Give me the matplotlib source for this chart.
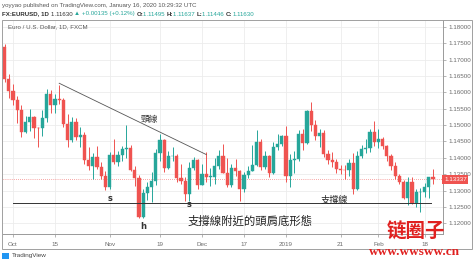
import matplotlib
matplotlib.use("Agg")
import matplotlib.pyplot as plt
from matplotlib.patches import Rectangle
import pandas as pd

# ---------------- data ----------------
holidays = ["2018-12-25", "2019-01-01"]
dates = [d for d in pd.bdate_range("2018-09-27", "2019-02-20").strftime("%Y-%m-%d") if d not in holidays]

opens = [1.1738, 1.1640,
         1.1604, 1.1576, 1.1547, 1.1479, 1.1511, 1.1524, 1.1491, 1.1490, 1.1522, 1.1595, 1.1560, 1.1580,
         1.1576, 1.1502, 1.1454, 1.1511, 1.1463, 1.1470, 1.1393, 1.1374, 1.1401, 1.1372, 1.1343,
         1.1312, 1.1408, 1.1387, 1.1408, 1.1428, 1.1431, 1.1364, 1.1337, 1.1218, 1.1292, 1.1310, 1.1328,
         1.1416, 1.1455, 1.1370, 1.1405, 1.1405, 1.1338, 1.1328, 1.1288, 1.1370, 1.1392,
         1.1317, 1.1351, 1.1342, 1.1342, 1.1376, 1.1406, 1.1355, 1.1318, 1.1370, 1.1361, 1.1305, 1.1347,
         1.1361, 1.1379, 1.1447, 1.1371, 1.1405, 1.1354, 1.1434, 1.1442,
         1.1466, 1.1343, 1.1393, 1.1397, 1.1474, 1.1444, 1.1542, 1.1501, 1.1467, 1.1477, 1.1413, 1.1392,
         1.1388, 1.1365, 1.1364, 1.1362, 1.1384, 1.1306, 1.1404, 1.1428, 1.1430, 1.1480,
         1.1447, 1.1456, 1.1436, 1.1406, 1.1376, 1.1343, 1.1325, 1.1277, 1.1327, 1.1263, 1.1294, 1.1295,
         1.1310, 1.1342]
highs = [1.1747, 1.1657,
         1.1625, 1.1590, 1.1560, 1.1528, 1.1548, 1.1528, 1.1495, 1.1545, 1.1609, 1.1607, 1.1595, 1.1622,
         1.1582, 1.1533, 1.1525, 1.1522, 1.1495, 1.1479, 1.1433, 1.1414, 1.1435, 1.1388, 1.1360,
         1.1418, 1.1456, 1.1422, 1.1437, 1.1500, 1.1440, 1.1375, 1.1347, 1.1306, 1.1327, 1.1356, 1.1428,
         1.1472, 1.1459, 1.1420, 1.1432, 1.1411, 1.1380, 1.1341, 1.1386, 1.1402, 1.1397,
         1.1382, 1.1419, 1.1368, 1.1400, 1.1424, 1.1443, 1.1400, 1.1382, 1.1395, 1.1364, 1.1358, 1.1376,
         1.1440, 1.1486, 1.1457, 1.1420, 1.1410, 1.1449, 1.1474, 1.1471,
         1.1497, 1.1413, 1.1420, 1.1484, 1.1488, 1.1546, 1.1570, 1.1515, 1.1487, 1.1485, 1.1425, 1.1418,
         1.1396, 1.1378, 1.1379, 1.1397, 1.1415, 1.1420, 1.1440, 1.1456, 1.1488, 1.1514,
         1.1489, 1.1465, 1.1440, 1.1412, 1.1387, 1.1352, 1.1331, 1.1340, 1.1341, 1.1306, 1.1307, 1.1322,
         1.1342, 1.1367]
lows = [1.1633, 1.1582,
        1.1563, 1.1506, 1.1463, 1.1476, 1.1483, 1.1460, 1.1432, 1.1468, 1.1510, 1.1538, 1.1537, 1.1566,
        1.1494, 1.1433, 1.1449, 1.1455, 1.1434, 1.1380, 1.1364, 1.1336, 1.1365, 1.1335, 1.1301,
        1.1306, 1.1380, 1.1374, 1.1390, 1.1400, 1.1359, 1.1315, 1.1216, 1.1216, 1.1272, 1.1265, 1.1317,
        1.1390, 1.1358, 1.1365, 1.1390, 1.1325, 1.1321, 1.1267, 1.1268, 1.1364, 1.1306,
        1.1316, 1.1327, 1.1315, 1.1320, 1.1365, 1.1355, 1.1310, 1.1310, 1.1344, 1.1269, 1.1294, 1.1337,
        1.1361, 1.1375, 1.1363, 1.1365, 1.1342, 1.1350, 1.1425, 1.1435,
        1.1325, 1.1311, 1.1354, 1.1390, 1.1424, 1.1442, 1.1483, 1.1454, 1.1434, 1.1401, 1.1380, 1.1372,
        1.1353, 1.1350, 1.1335, 1.1344, 1.1290, 1.1301, 1.1400, 1.1414, 1.1418, 1.1436,
        1.1431, 1.1426, 1.1390, 1.1362, 1.1334, 1.1320, 1.1275, 1.1257, 1.1258, 1.1249, 1.1234, 1.1280,
        1.1276, 1.1320]
closes = [1.1640, 1.1604,
          1.1576, 1.1547, 1.1479, 1.1511, 1.1524, 1.1491, 1.1490, 1.1522, 1.1595, 1.1560, 1.1580, 1.1576,
          1.1502, 1.1454, 1.1511, 1.1463, 1.1470, 1.1393, 1.1374, 1.1401, 1.1372, 1.1343, 1.1312,
          1.1408, 1.1387, 1.1408, 1.1428, 1.1431, 1.1364, 1.1337, 1.1218, 1.1292, 1.1310, 1.1328, 1.1416,
          1.1455, 1.1370, 1.1405, 1.1405, 1.1338, 1.1328, 1.1288, 1.1370, 1.1392, 1.1317,
          1.1351, 1.1342, 1.1342, 1.1376, 1.1406, 1.1355, 1.1318, 1.1370, 1.1361, 1.1305, 1.1347, 1.1361,
          1.1379, 1.1447, 1.1371, 1.1405, 1.1354, 1.1434, 1.1442, 1.1466,
          1.1343, 1.1393, 1.1397, 1.1474, 1.1444, 1.1542, 1.1501, 1.1467, 1.1477, 1.1413, 1.1392, 1.1388,
          1.1365, 1.1364, 1.1362, 1.1384, 1.1306, 1.1404, 1.1428, 1.1430, 1.1480, 1.1447,
          1.1456, 1.1436, 1.1406, 1.1376, 1.1343, 1.1325, 1.1277, 1.1327, 1.1263, 1.1294, 1.1295, 1.1310,
          1.1342, 1.13337]

price_ticks = [1.12, 1.125, 1.13, 1.135, 1.14, 1.145, 1.15, 1.155, 1.16, 1.165, 1.17, 1.175, 1.18]
date_tick_dates = ["2018-10-01", "2018-10-15", "2018-11-01", "2018-11-19", "2018-12-03",
                   "2018-12-17", "2019-01-02", "2019-01-21", "2019-02-01", "2019-02-18"]
date_tick_labels = ["Oct", "15", "Nov", "19", "Dec", "17", "2019", "21", "Feb", "18"]

neck_dates = ["2018-10-16", "2018-12-04"]
neck_prices = [1.1628, 1.1410]
support_dates = ["2018-10-01", "2019-02-20"]
support_price = 1.1262

header1 = "yoyyao published on TradingView.com, January 16, 2020 10:29:32 UTC"
header2 = [("FX:EURUSD, 1D ", "#333333", "bold"), ("1.11630 ", "#333333", "normal"),
           ("▲ +0.00135 (+0.12%) ", "#26a69a", "normal"),
           ("O:", "#333333", "bold"), ("1.11495 ", "#26a69a", "normal"),
           ("H:", "#333333", "bold"), ("1.11637 ", "#26a69a", "normal"),
           ("L:", "#333333", "bold"), ("1.11446 ", "#26a69a", "normal"),
           ("C:", "#333333", "bold"), ("1.11630", "#26a69a", "normal")]
title_txt = "Euro / U.S. Dollar, 1D, FXCM"

# ---------------- figure ----------------
W, H, DPI = 476, 261, 100
fig = plt.figure(figsize=(W / DPI, H / DPI), dpi=DPI)
fig.patch.set_facecolor("white")

def fx(x):
    return x / W

def fy(y):
    return 1 - y / H

UP = "#26a69a"
DN = "#ef5350"
GRID = "#ececec"
TXT = "#6b6b6b"
CJK = ["Noto Sans CJK TC", "DejaVu Sans"]
LAT = ["Liberation Sans", "DejaVu Sans"]

ax = fig.add_axes([fx(3), fy(234), fx(443) - fx(3), fy(20) - fy(234)])
ax.set_facecolor("white")
idx = {d: i for i, d in enumerate(dates)}

for i, (o, h, l, c) in enumerate(zip(opens, highs, lows, closes)):
    col = UP if c >= o else DN
    ax.vlines(i, l, h, color=col, linewidth=0.7, zorder=3)
    ax.add_patch(Rectangle((i - 0.36, min(o, c)), 0.72, max(abs(c - o), 0.00012),
                           facecolor=col, edgecolor=col, linewidth=0.3, zorder=4))

ax.set_xlim(-0.38, 104.38)
ax.set_ylim(1.11670, 1.18214)

tick_pos = [idx[d] for d in date_tick_dates]
ax.set_xticks(tick_pos)
ax.set_xticklabels(date_tick_labels, fontsize=4.5, color=TXT, family=LAT)
ax.set_yticks(price_ticks)
ax.set_yticklabels([f"{p:.5f}" for p in price_ticks], fontsize=4.5, color=TXT, family=LAT)
ax.yaxis.tick_right()
ax.tick_params(axis="y", length=2, width=0.5, color="#999999", pad=2)
ax.tick_params(axis="x", length=2, width=0.5, color="#999999", pad=4)
ax.grid(True, color=GRID, linewidth=0.6, zorder=0)
for s in ["top", "left"]:
    ax.spines[s].set_visible(False)
for s in ["right", "bottom"]:
    ax.spines[s].set_color("#9a9a9a")
    ax.spines[s].set_linewidth(0.7)

# neckline
ax.plot([idx[d] for d in neck_dates], neck_prices, color="#555555", linewidth=0.6, zorder=5)
ax.text(idx["2018-11-14"] + 0.5, 1.1517, "頸線", family=CJK, fontsize=6.3, color="#333333",
        ha="center", va="center", zorder=6)

# support line
ax.plot([idx[support_dates[0]], idx[support_dates[1]] - 0.5], [support_price, support_price],
        color="#333333", linewidth=0.7, zorder=5)
ax.text(idx["2018-11-01"], 1.1275, "s", fontsize=6, color="#333333", fontweight="bold",
        ha="center", va="center", zorder=6)
ax.text(idx["2018-11-28"], 1.1256, "s", fontsize=6, color="#333333", fontweight="bold",
        ha="center", va="center", zorder=6)
ax.text(idx["2018-11-13"], 1.1191, "h", fontsize=6, color="#333333", fontweight="bold",
        ha="center", va="center", zorder=6)
ax.text(idx["2019-01-17"] + 0.5, 1.1270, "支撐線", family=CJK, fontsize=6.6, color="#222222",
        ha="center", va="center", zorder=6)
ax.text(idx["2018-12-18"] + 0.5, 1.1207, "支撐線附近的頭肩底形態", family=CJK, fontsize=8.2,
        color="#222222", ha="center", va="center", zorder=6)

# last price label
last = closes[-1]
ax.text(1.0 + 1.0 / 440, last, f"{last:.5f}", transform=ax.get_yaxis_transform(),
        fontsize=4.5, family=LAT, color="white", ha="left", va="center", zorder=10,
        bbox=dict(boxstyle="square,pad=0.25", facecolor=DN, edgecolor="none"), clip_on=False)
ax.axhline(last, color=DN, linewidth=0.5, linestyle=(0, (1, 2)), zorder=2)

# outer box
fig.add_artist(Rectangle((fx(2), fy(249)), fx(472) - fx(2), fy(20) - fy(249), transform=fig.transFigure,
                         fill=False, edgecolor="#a0a0a0", linewidth=0.7))

# headers
fig.text(fx(2), fy(5), header1, fontsize=4.4, family=LAT, color="#555555", ha="left", va="center")
renderer = fig.canvas.get_renderer()
xcur = 2.0
for txt, col, wt in header2:
    t = fig.text(fx(xcur), fy(14), txt, fontsize=4.4, family=LAT, color=col, fontweight=wt,
                 ha="left", va="center")
    bb = t.get_window_extent(renderer)
    xcur += bb.width
fig.text(fx(8), fy(27), title_txt, fontsize=4.4, family=LAT, color="#555555", ha="left", va="center")

# TradingView footer
fig.add_artist(Rectangle((fx(2), fy(259)), fx(9) - fx(2), fy(253) - fy(259), transform=fig.transFigure,
                         facecolor="#2196f3", edgecolor="none"))
fig.text(fx(12), fy(256), "TradingView", fontsize=4.6, family=LAT, color="#444444", ha="left", va="center")

# watermark
fig.text(fx(416), fy(232), "链圈子", family=["Noto Sans CJK SC", "DejaVu Sans"], fontsize=14,
         fontweight="bold", color="#e0201f", ha="center", va="center", zorder=20)
fig.text(fx(414), fy(252), "www.wwsww.cn", family=["Liberation Serif", "DejaVu Serif"], fontsize=9.5,
         fontweight="bold", color="#e0201f", ha="center", va="center", zorder=20)

fig.savefig("out.png", dpi=DPI)
